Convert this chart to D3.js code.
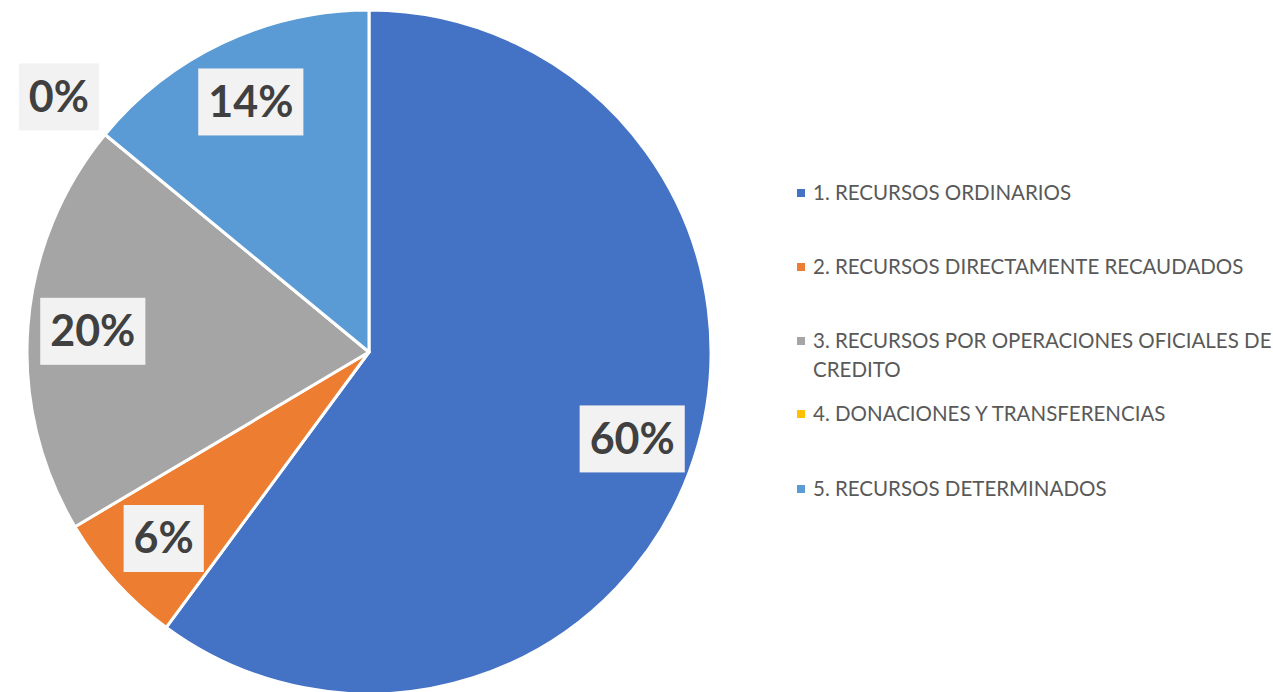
<!DOCTYPE html>
<html>
<head>
<meta charset="utf-8">
<script src="https://cdn.jsdelivr.net/npm/d3@7"></script>
<style>
  body { margin: 0; background: #fff; }
  svg { display: block; }
</style>
</head>
<body>
<div id="chart"></div>
<script>
// chart data (share of total, in %)
var categories = [
    "1. RECURSOS ORDINARIOS",
    "2. RECURSOS DIRECTAMENTE RECAUDADOS",
    "3. RECURSOS POR OPERACIONES OFICIALES DE CREDITO",
    "4. DONACIONES Y TRANSFERENCIAS",
    "5. RECURSOS DETERMINADOS"
];
var legendLines = [
    ["1. RECURSOS ORDINARIOS"],
    ["2. RECURSOS DIRECTAMENTE RECAUDADOS"],
    ["3. RECURSOS POR OPERACIONES OFICIALES DE", "CREDITO"],
    ["4. DONACIONES Y TRANSFERENCIAS"],
    ["5. RECURSOS DETERMINADOS"]
];
var values = [60.4, 6.4, 19.6, 0, 14.1];
var colors = ["#4472C4", "#ED7D31", "#A5A5A5", "#FFC000", "#5B9BD5"];

var width = 1273, height = 692;
var cx = 369, cy = 352, radius = 342;

var svg = d3.select("#chart").append("svg")
    .attr("width", width)
    .attr("height", height);

var total = d3.sum(values);
var fmt = d3.format(".0%");

var pie = d3.pie().sort(null).value(function(d) { return d; });
var arcs = pie(values);

var arc = d3.arc().innerRadius(0).outerRadius(radius);

var g = svg.append("g").attr("transform", "translate(" + cx + "," + cy + ")");

g.selectAll("path.slice")
    .data(arcs)
    .enter().append("path")
    .attr("class", "slice")
    .attr("d", arc)
    .attr("fill", function(d, i) { return colors[i]; })
    .attr("stroke", "#fff")
    .attr("stroke-width", 3)
    .attr("stroke-linejoin", "round");

// data labels: inside for normal slices, outside for tiny ones
var labelArc = d3.arc().innerRadius(radius * 0.81).outerRadius(radius * 0.81);
var outArc = d3.arc().innerRadius(radius * 1.175).outerRadius(radius * 1.175);

var labels = g.selectAll("g.lbl")
    .data(arcs)
    .enter().append("g")
    .attr("class", "lbl")
    .attr("transform", function(d) {
        var share = d.data / total;
        var c = share < 0.02 ? outArc.centroid(d) : labelArc.centroid(d);
        return "translate(" + c[0] + "," + c[1] + ")";
    });

labels.each(function(d) {
    var sel = d3.select(this);
    var t = sel.append("text")
        .attr("text-anchor", "middle")
        .attr("dy", "0.36em")
        .attr("font-family", "Lato, 'Open Sans', sans-serif")
        .attr("font-weight", "bold")
        .attr("font-size", 43)
        .attr("fill", "#404040")
        .text(fmt(d.data / total));
    var bb = t.node().getBBox();
    sel.insert("rect", "text")
        .attr("x", bb.x - 10)
        .attr("y", -33)
        .attr("width", bb.width + 20)
        .attr("height", 67)
        .attr("fill", "#F2F2F2");
});

// legend
var legendX = 797, rowY = [193, 267, 341, 414, 489], lineH = 29;

var leg = svg.selectAll("g.legend")
    .data(categories)
    .enter().append("g")
    .attr("class", "legend")
    .attr("transform", function(d, i) { return "translate(" + legendX + "," + rowY[i] + ")"; });

leg.append("rect")
    .attr("x", 0)
    .attr("y", -4)
    .attr("width", 8)
    .attr("height", 8)
    .attr("fill", function(d, i) { return colors[i]; });

leg.append("text")
    .attr("x", 16)
    .attr("font-family", "Lato, 'Open Sans', sans-serif")
    .attr("font-size", 20.5)
    .attr("fill", "#595959")
    .each(function(d, i) {
        var t = d3.select(this);
        legendLines[i].forEach(function(line, j) {
            t.append("tspan")
                .attr("x", 16)
                .attr("y", j * lineH)
                .attr("dy", "0.35em")
                .text(line);
        });
    });
</script>
</body>
</html>
